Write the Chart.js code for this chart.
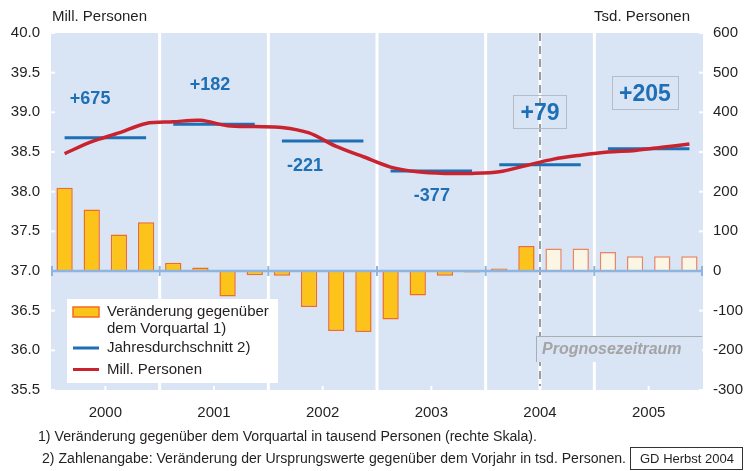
<!DOCTYPE html>
<html>
<head>
<meta charset="utf-8">
<script src="https://cdn.jsdelivr.net/npm/chart.js@4/dist/chart.umd.min.js"></script>
<style>
  html, body { margin: 0; padding: 0; background: #fff; }
  #wrap { width: 746px; height: 471px; }
</style>
</head>
<body>
<div id="wrap"><canvas id="myChart" width="746" height="471"></canvas></div>
<script>
var years = ['2000', '2001', '2002', '2003', '2004', '2005'];
var quarters = ['Q1', 'Q2', 'Q3', 'Q4'];

// Veraenderung gegenueber dem Vorquartal, tsd. Personen (rechte Skala)
var quarterChange = [210, 155, 92, 123, 21, 9, -64, -11, -12, -91, -151, -154,
                     -122, -62, -12, -4, 6, 63, 57, 57, 48, 37, 37, 37];
// Erwerbstaetige, Mill. Personen
var persons = [38.48, 38.63, 38.74, 38.86, 38.88, 38.90, 38.83, 38.82,
               38.81, 38.74, 38.57, 38.44, 38.31, 38.25, 38.23, 38.23,
               38.25, 38.33, 38.41, 38.46, 38.50, 38.52, 38.56, 38.60];
// Jahresdurchschnitt, Mill. Personen
var yearAvg = [38.68, 38.85, 38.64, 38.26, 38.34, 38.54];
// Zahlenangabe: Veraenderung gegenueber Vorjahr
var yearChangeText = ['+675', '+182', '-221', '-377', '+79', '+205'];
var forecastStart = 18; // first forecast quarter (2004 Q3)

var leftTicks = { min: 35.5, max: 40.0, step: 0.5 };
var rightTicks = { min: -300, max: 600, step: 100 };

var labels = [];
years.forEach(function (y) { quarters.forEach(function (q) { labels.push(y + ' ' + q); }); });
var avgLine = [];
yearAvg.forEach(function (v) { for (var i = 0; i < 4; i++) avgLine.push(v); });

// where the year change numbers sit: quarter position and left-axis value
var notePos = [[0.94, 39.18], [5.35, 39.36], [8.85, 38.34], [13.52, 37.96], [17.5, 39.0], [21.36, 39.24]];

var FONT = '"Liberation Sans", Arial, sans-serif';
var BLUE = '#1d6fb6';
var RED = '#c8232e';

function squeezeText(ctx, text, x, y, w) {
    ctx.save();
    ctx.translate(x, y);
    var m = ctx.measureText(text).width;
    ctx.scale(w / m, 1);
    ctx.fillText(text, 0, 0);
    ctx.restore();
}

var decorations = {
    id: 'decorations',
    beforeDraw: function (chart) {
        var ctx = chart.ctx, a = chart.chartArea;
        ctx.save();
        ctx.fillStyle = '#d9e4f4';
        ctx.fillRect(a.left, a.top, a.right - a.left, a.bottom - a.top);
        ctx.restore();
    },
    beforeDatasetsDraw: function (chart) {
        var ctx = chart.ctx, a = chart.chartArea, x = chart.scales.x;
        var mid = function (i) { return (x.getPixelForValue(i - 1) + x.getPixelForValue(i)) / 2; };
        ctx.save();
        ctx.strokeStyle = '#ffffff';
        ctx.lineWidth = 3;
        for (var k = 1; k < years.length; k++) {
            var px = mid(4 * k);
            ctx.beginPath(); ctx.moveTo(px, a.top); ctx.lineTo(px, a.bottom); ctx.stroke();
        }
        // forecast divider
        var fx = mid(forecastStart);
        ctx.beginPath(); ctx.moveTo(fx, a.top); ctx.lineTo(fx, a.bottom); ctx.stroke();
        ctx.strokeStyle = '#9c9c9c';
        ctx.lineWidth = 2;
        ctx.setLineDash([8, 5]);
        ctx.beginPath(); ctx.moveTo(fx, a.top); ctx.lineTo(fx, a.bottom); ctx.stroke();
        ctx.setLineDash([]);
        // small white tick marks
        ctx.strokeStyle = '#ffffff';
        ctx.lineWidth = 2;
        chart.scales.y.ticks.forEach(function (t) {
            var py = chart.scales.y.getPixelForValue(t.value);
            ctx.beginPath(); ctx.moveTo(a.left, py); ctx.lineTo(a.left + 4, py); ctx.stroke();
            ctx.beginPath(); ctx.moveTo(a.right - 4, py); ctx.lineTo(a.right, py); ctx.stroke();
        });
        var xy = chart.scales.xYear;
        years.forEach(function (y, i) {
            var px = xy.getPixelForValue(i);
            ctx.beginPath(); ctx.moveTo(px, a.bottom - 4); ctx.lineTo(px, a.bottom); ctx.stroke();
        });
        ctx.restore();
    },
    afterDatasetDraw: function (chart, args) {
        if (args.meta.type !== 'bar') return;
        var ctx = chart.ctx, a = chart.chartArea, x = chart.scales.x;
        var py = chart.scales.y1.getPixelForValue(0);
        ctx.save();
        ctx.strokeStyle = '#8fb5de';
        ctx.lineWidth = 2.5;
        ctx.beginPath(); ctx.moveTo(a.left, py); ctx.lineTo(a.right, py); ctx.stroke();
        ctx.lineWidth = 2;
        for (var k = 0; k <= years.length; k++) {
            var px = k === 0 ? a.left + 1 : (k === years.length ? a.right - 1 :
                (x.getPixelForValue(4 * k - 1) + x.getPixelForValue(4 * k)) / 2);
            ctx.beginPath(); ctx.moveTo(px, py - 5); ctx.lineTo(px, py + 5); ctx.stroke();
        }
        ctx.restore();
    },
    afterDraw: function (chart) {
        var ctx = chart.ctx, a = chart.chartArea, x = chart.scales.x, y = chart.scales.y;
        ctx.save();
        ctx.textBaseline = 'middle';

        // year change numbers
        yearChangeText.forEach(function (txt, i) {
            var px = x.getPixelForValue(notePos[i][0]);
            var py = y.getPixelForValue(notePos[i][1]);
            var boxed = i >= 4;
            ctx.font = 'bold ' + (boxed ? 23 : 18) + 'px ' + FONT;
            ctx.textAlign = 'center';
            if (boxed) {
                var w = ctx.measureText(txt).width + 14;
                ctx.strokeStyle = '#b4bcc8';
                ctx.lineWidth = 1;
                ctx.strokeRect(Math.round(px - w / 2) + 0.5, Math.round(py - 17) + 0.5, Math.round(w), 33);
            }
            ctx.fillStyle = BLUE;
            ctx.fillText(txt, px, py + 1);
        });

        // Prognosezeitraum box
        var fx = (x.getPixelForValue(forecastStart - 1) + x.getPixelForValue(forecastStart)) / 2;
        ctx.fillStyle = '#d9e4f4';
        ctx.fillRect(fx - 3, 336, a.right - fx + 2, 26);
        ctx.strokeStyle = '#a9aeb4';
        ctx.lineWidth = 1;
        ctx.beginPath();
        ctx.moveTo(fx - 3.5, 362); ctx.lineTo(fx - 3.5, 336.5); ctx.lineTo(a.right - 1, 336.5);
        ctx.stroke();
        ctx.font = 'italic bold 16px ' + FONT;
        ctx.fillStyle = '#a4a4a4';
        ctx.textAlign = 'left';
        ctx.fillText('Prognosezeitraum', fx + 2, 350);

        // legend
        ctx.fillStyle = '#ffffff';
        ctx.fillRect(67, 299, 211, 84);
        ctx.fillStyle = '#fcc41b';
        ctx.fillRect(73, 307, 26, 10);
        ctx.strokeStyle = '#f26b22';
        ctx.lineWidth = 1.5;
        ctx.strokeRect(73, 307, 26, 10);
        ctx.lineWidth = 3;
        ctx.strokeStyle = BLUE;
        ctx.beginPath(); ctx.moveTo(73, 348); ctx.lineTo(99, 348); ctx.stroke();
        ctx.strokeStyle = RED;
        ctx.beginPath(); ctx.moveTo(73, 369.5); ctx.lineTo(99, 369.5); ctx.stroke();
        ctx.font = '15px ' + FONT;
        ctx.fillStyle = '#231f20';
        ctx.fillText('Veränderung gegenüber', 107, 312);
        ctx.fillText('dem Vorquartal 1)', 107, 329);
        ctx.fillText('Jahresdurchschnitt 2)', 107, 348);
        ctx.fillText('Mill. Personen', 107, 370);

        // axis titles
        ctx.fillText('Mill. Personen', 52, 17);
        ctx.textAlign = 'right';
        ctx.fillText('Tsd. Personen', 690, 17);

        // footnotes
        ctx.textAlign = 'left';
        ctx.font = '14px ' + FONT;
        squeezeText(ctx, '1) Veränderung gegenüber dem Vorquartal in tausend Personen (rechte Skala).', 38, 437, 499);
        squeezeText(ctx, '2) Zahlenangabe: Veränderung der Ursprungswerte gegenüber dem Vorjahr in tsd. Personen.', 42, 459, 584);
        ctx.strokeStyle = '#333333';
        ctx.lineWidth = 1;
        ctx.strokeRect(630.5, 447.5, 112, 22);
        ctx.font = '13px ' + FONT;
        squeezeText(ctx, 'GD Herbst 2004', 640, 459, 94);
        ctx.restore();
    }
};

document.addEventListener('DOMContentLoaded', function () {
    var ctx1 = document.getElementById('myChart').getContext('2d');

    var data1 = {
        labels: labels,
        datasets: [{
            type: 'line',
            label: 'Mill. Personen',
            data: persons,
            yAxisID: 'y',
            xAxisID: 'x',
            borderColor: RED,
            borderWidth: 3.5,
            pointRadius: 0,
            tension: 0.3,
            order: 0
        }, {
            type: 'line',
            label: 'Jahresdurchschnitt 2)',
            data: avgLine,
            yAxisID: 'y',
            xAxisID: 'x',
            borderColor: BLUE,
            borderWidth: 3,
            pointRadius: 0,
            tension: 0,
            segment: {
                borderColor: function (c) { return c.p0DataIndex % 4 === 3 ? 'transparent' : BLUE; }
            },
            order: 1
        }, {
            type: 'bar',
            label: 'Veränderung gegenüber dem Vorquartal 1)',
            data: quarterChange,
            yAxisID: 'y1',
            xAxisID: 'x',
            backgroundColor: quarterChange.map(function (v, i) { return i < forecastStart ? '#fcc41b' : '#fbf6e4'; }),
            borderColor: quarterChange.map(function (v, i) { return i < forecastStart ? '#f26b22' : '#ef8462'; }),
            borderWidth: 1.5,
            categoryPercentage: 1,
            barPercentage: 0.6,
            order: 2
        }]
    };

    var myChart1 = new Chart(ctx1, {
        type: 'bar',
        data: data1,
        plugins: [decorations],
        options: {
            responsive: false,
            animation: false,
            layout: { padding: { top: 33, left: 0, right: 0, bottom: 0 } },
            plugins: {
                legend: { display: false },
                tooltip: { enabled: false }
            },
            scales: {
                x: {
                    type: 'category',
                    display: false,
                    offset: true
                },
                xYear: {
                    type: 'category',
                    labels: years,
                    position: 'bottom',
                    offset: true,
                    grid: { display: false, drawTicks: false },
                    border: { display: false },
                    ticks: { color: '#231f20', font: { family: FONT, size: 15 }, padding: 14, maxRotation: 0 },
                    afterFit: function (s) { s.height = 81; }
                },
                y: {
                    position: 'left',
                    min: leftTicks.min,
                    max: leftTicks.max,
                    grid: { display: false, drawTicks: false },
                    border: { display: false },
                    ticks: {
                        stepSize: leftTicks.step,
                        color: '#231f20',
                        font: { family: FONT, size: 15 },
                        padding: 11,
                        callback: function (v) { return v.toFixed(1); }
                    },
                    afterFit: function (s) { s.width = 51; }
                },
                y1: {
                    position: 'right',
                    min: rightTicks.min,
                    max: rightTicks.max,
                    grid: { display: false, drawTicks: false },
                    border: { display: false },
                    ticks: {
                        stepSize: rightTicks.step,
                        color: '#231f20',
                        font: { family: FONT, size: 15 },
                        padding: 10
                    },
                    afterFit: function (s) { s.width = 43; }
                }
            }
        }
    });
});
</script>
</body>
</html>
